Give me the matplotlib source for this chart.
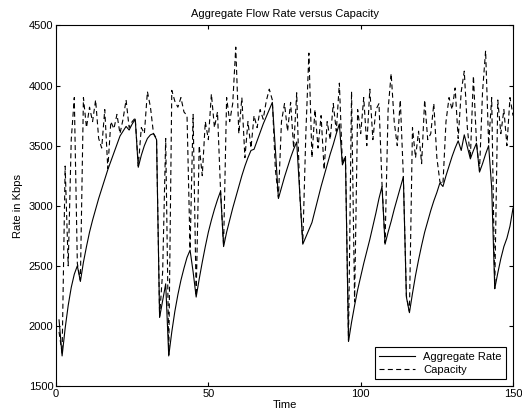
import numpy as np
import matplotlib
matplotlib.use("Agg")
import matplotlib.pyplot as plt

## data (time step 1..150)
time = np.arange(1, 151)

aggregate_rate = [
    2050, 1750, 1980, 2170, 2320, 2430, 2500, 2370, 2530, 2660,
    2780, 2880, 2970, 3060, 3140, 3220, 3300, 3370, 3440, 3510,
    3580, 3620, 3660, 3630, 3680, 3720, 3320, 3420, 3500, 3560,
    3590, 3600, 3550, 2070, 2210, 2350, 1750, 1950, 2120, 2260,
    2380, 2480, 2570, 2630, 2450, 2240, 2390, 2530, 2660, 2780,
    2880, 2970, 3050, 3120, 2660, 2780, 2880, 2980, 3070, 3160,
    3250, 3330, 3400, 3460, 3470, 3540, 3610, 3680, 3740, 3800,
    3860, 3470, 3060, 3150, 3240, 3320, 3400, 3470, 3530, 3100,
    2680, 2740, 2800, 2860, 2960, 3060, 3160, 3250, 3340, 3430,
    3510, 3600, 3680, 3340, 3400, 1870, 2030, 2170, 2300, 2410,
    2520, 2620, 2720, 2830, 2940, 3060, 3160, 2680, 2780, 2870,
    2970, 3060, 3150, 3240, 2240, 2110, 2270, 2420, 2550, 2670,
    2780, 2870, 2960, 3040, 3110, 3190, 3160, 3250, 3330, 3410,
    3480, 3540, 3460, 3590, 3490, 3390, 3460, 3520, 3280, 3350,
    3430, 3500, 3150, 2310, 2440, 2560, 2660, 2730, 2830, 2980,
]

capacity = [
    1950, 1770, 3330, 2500, 3550, 3900, 2520, 2380, 3900, 3650,
    3820, 3700, 3880, 3560, 3480, 3800, 3310, 3700, 3640, 3760,
    3600, 3720, 3880, 3650, 3700, 3730, 3330, 3650, 3600, 3950,
    3820, 3600, 3560, 2080, 2450, 3560, 1760, 3960, 3870, 3820,
    3900, 3780, 3750, 2640, 3760, 2250, 3500, 3250, 3700, 3550,
    3930, 3650, 3780, 3130, 2670, 3900, 3700, 3850, 4320, 3600,
    3900, 3400, 3700, 3480, 3750, 3650, 3800, 3720, 3870, 3970,
    3880, 3300, 3070, 3700, 3850, 3620, 3860, 3480, 3940, 3100,
    2690, 3600, 4270, 3400, 3800, 3480, 3750, 3300, 3700, 3550,
    3850, 3620, 4020, 3350, 3420, 1880, 3950, 2200, 3800, 3600,
    3900, 3500, 3970, 3550, 3800, 3850, 3180, 2690, 3800, 4100,
    3700, 3500, 3880, 3250, 2250, 2120, 3650, 3400, 3620, 3350,
    3880, 3550, 3600, 3850, 3400, 3200, 3180, 3700, 3900, 3800,
    3980, 3560, 3950, 4120, 3650, 3400, 4080, 3530, 3290, 3950,
    4290, 3510, 3900, 2310, 3880, 3600, 3800, 3500, 3900, 3750,
]

x_ticks = [0, 50, 100, 150]
y_ticks = [1500, 2000, 2500, 3000, 3500, 4000, 4500]

## MATLAB 느낌의 폰트
plt.rcParams['font.family'] = ['Liberation Sans', 'DejaVu Sans']
plt.rcParams['font.size'] = 8

fig = plt.figure(figsize=(5.22, 4.19), dpi=100)
ax = fig.add_axes([0.1073, 0.0788, 0.8755, 0.8604])

ax.plot(time, aggregate_rate, color='black', linewidth=0.8, label='Aggregate Rate')
ax.plot(time, capacity, color='black', linewidth=0.8, linestyle=(0, (4.5, 3)), label='Capacity')

ax.set_xlim(0, 150)
ax.set_ylim(1500, 4500)
ax.set_xticks(x_ticks)
ax.set_yticks(y_ticks)
ax.tick_params(direction='in', top=True, right=True, length=3, width=0.8, pad=2, labelsize=8)
for s in ax.spines.values():
    s.set_linewidth(0.8)

ax.set_title('Aggregate Flow Rate versus Capacity', fontsize=8, pad=6)
ax.set_xlabel('Time', fontsize=8, labelpad=1)
ax.set_ylabel('Rate in Kbps', fontsize=8, labelpad=4)

leg = ax.legend(loc='lower right', fancybox=False, framealpha=1, edgecolor='black',
                fontsize=8, handlelength=3.2, borderaxespad=0.6, labelspacing=0.3)
leg.get_frame().set_linewidth(0.8)

fig.savefig('out.png', dpi=100)
